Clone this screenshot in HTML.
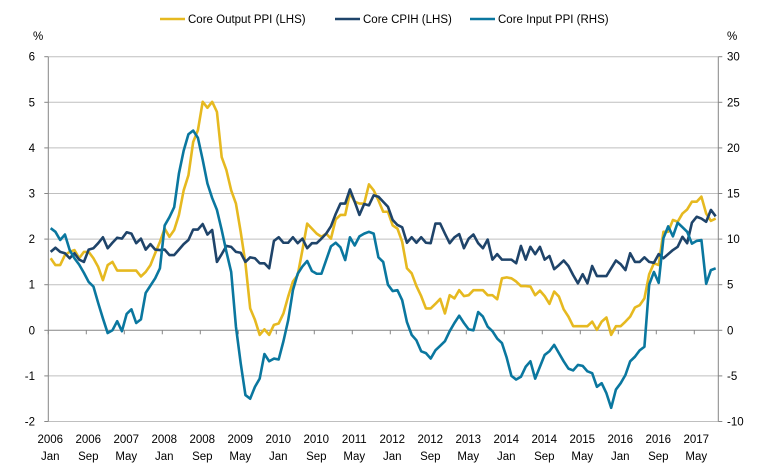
<!DOCTYPE html>
<html><head><meta charset="utf-8"><style>
html,body{margin:0;padding:0;background:#fff;}
svg{display:block;font-family:"Liberation Sans",Arial,sans-serif;}
</style></head><body>
<svg id="chart" width="758" height="475" viewBox="0 0 758 475" xmlns="http://www.w3.org/2000/svg">
<g id="grid"></g>
<g id="axes"></g>
<g id="series"></g>
<g id="legend"></g>
</svg>
<script>
const outputPPI=[1.58,1.43,1.43,1.65,1.72,1.76,1.58,1.72,1.72,1.58,1.39,1.10,1.43,1.50,1.31,1.31,1.31,1.31,1.31,1.18,1.28,1.43,1.69,1.94,
2.23,2.05,2.20,2.53,3.07,3.40,4.13,4.39,5.01,4.88,5.01,4.79,3.80,3.51,3.07,2.78,2.16,1.47,0.48,0.23,-0.10,0.02,-0.10,0.12,0.15,
0.37,0.74,1.07,1.21,1.76,2.34,2.23,2.12,2.05,2.12,2.01,2.43,2.53,2.53,3.01,2.82,2.78,2.78,3.20,3.07,2.85,2.60,2.60,2.30,
2.23,1.94,1.36,1.25,0.97,0.75,0.48,0.48,0.58,0.69,0.37,0.77,0.70,0.88,0.75,0.77,0.88,0.88,0.88,0.77,0.77,0.68,1.14,1.16,
1.14,1.07,0.97,0.97,0.96,0.77,0.87,0.75,0.58,0.85,0.74,0.46,0.30,0.09,0.09,0.09,0.09,0.19,0.01,0.19,0.28,-0.10,0.09,0.09,
0.19,0.30,0.50,0.55,0.70,1.23,1.47,1.43,2.16,2.16,2.42,2.38,2.56,2.65,2.82,2.82,2.93,2.56,2.40,2.45];
const cpih=[1.72,1.81,1.72,1.69,1.58,1.69,1.55,1.50,1.77,1.80,1.91,2.04,1.80,1.92,2.03,2.01,2.15,2.12,1.91,2.01,1.77,1.89,1.77,1.76,
1.77,1.65,1.65,1.77,1.89,1.98,2.21,2.21,2.33,2.10,2.20,1.50,1.67,1.85,1.83,1.72,1.70,1.50,1.60,1.58,1.47,1.47,1.36,1.96,2.04,
1.92,1.92,2.04,1.91,2.01,1.80,1.91,1.91,2.01,2.12,2.28,2.55,2.78,2.78,3.09,2.82,2.53,2.77,2.74,2.96,2.93,2.82,2.71,2.42,
2.31,2.26,1.92,2.04,1.92,2.04,1.92,1.91,2.34,2.34,2.12,1.91,2.04,2.11,1.80,2.01,2.10,1.91,1.80,1.99,1.55,1.67,1.55,1.55,
1.55,1.47,1.85,1.55,1.83,1.67,1.83,1.55,1.63,1.34,1.43,1.53,1.41,1.21,1.03,1.23,1.03,1.41,1.19,1.19,1.19,1.36,1.53,1.45,
1.32,1.69,1.50,1.50,1.60,1.50,1.48,1.67,1.58,1.67,1.76,1.83,2.05,1.91,2.36,2.49,2.45,2.38,2.64,2.50];
const inputPPI=[11.2,10.8,9.9,10.5,8.8,7.9,7.2,6.3,5.3,4.8,3.0,1.3,-0.3,0,1.0,-0.1,1.8,2.3,0.8,1.2,4.1,4.9,5.7,6.8,
11.5,12.4,13.5,17.2,19.7,21.5,21.9,21.1,18.7,16.1,14.5,13.2,11.0,8.6,6.4,0.4,-3.6,-7.1,-7.5,-6.2,-5.3,-2.6,-3.4,-3.1,-3.2,
-1.2,1.1,4.4,6.2,7.0,7.6,6.5,6.2,6.2,7.7,9.2,9.6,9.1,7.7,10.2,9.3,10.3,10.6,10.8,10.6,8.0,7.5,5.0,4.3,
4.4,3.3,0.9,-0.5,-1.1,-2.3,-2.5,-3.1,-2.2,-1.7,-1.2,-0.1,0.8,1.6,0.8,0.1,0,2.0,1.5,0.4,-0.1,-0.9,-1.4,-3.0,
-5.0,-5.4,-5.1,-4.0,-3.4,-5.3,-4.0,-2.7,-2.3,-1.6,-2.5,-3.4,-4.2,-4.4,-3.8,-3.9,-4.5,-4.7,-6.2,-5.8,-6.9,-8.5,-6.5,-5.8,
-4.9,-3.4,-2.9,-2.2,-1.8,5.0,6.4,5.2,10.1,11.4,10.3,11.8,11.3,10.8,9.5,9.8,9.9,5.1,6.6,6.8];
const leftTicks=[-2,-1,0,1,2,3,4,5,6];
const rightTicks=[-10,-5,0,5,10,15,20,25,30];
const xLabelYears=["2006","2006","2007","2008","2008","2009","2010","2010","2011","2012","2012","2013","2014","2014","2015","2016","2016","2017"];
const xLabelMonths=["Jan","Sep","May","Jan","Sep","May","Jan","Sep","May","Jan","Sep","May","Jan","Sep","May","Jan","Sep","May"];
const NS="http://www.w3.org/2000/svg";
const X0=48.3,STEP=4.75,Y0=330.3,UNIT=45.6,XR=718.3;
function xCat(i){return X0+STEP/2+STEP*i;}
function xEdge(i){return X0+STEP*i;}
function yL(v){return Y0-v*UNIT;}
function yR(v){return Y0-v/5*UNIT;}
function mk(tag,attrs,parent){const e=document.createElementNS(NS,tag);for(const k in attrs)e.setAttribute(k,attrs[k]);parent.appendChild(e);return e;}
const grid=document.getElementById('grid'),axes=document.getElementById('axes'),series=document.getElementById('series'),legend=document.getElementById('legend');
leftTicks.forEach(t=>{
  if(t!==0){const g=mk('line',{x1:X0,x2:XR,y1:yL(t),y2:yL(t),stroke:'#bfbfbf','stroke-width':1},grid);
  
  }
  const lt=mk('text',{x:35,y:yL(t)+4,'text-anchor':'end','font-size':11.5,fill:'#000'},axes);lt.textContent=t;
  
  
});
rightTicks.forEach(t=>{
  const rt=mk('text',{x:727,y:yR(t)+4,'text-anchor':'start','font-size':11.5,fill:'#000'},axes);rt.textContent=t;
  
  
});
const la=mk('line',{x1:X0,x2:X0,y1:yL(6),y2:yL(-2),stroke:'#868686','stroke-width':1},axes);


const ra=mk('line',{x1:XR,x2:XR,y1:yL(6),y2:yL(-2),stroke:'#868686','stroke-width':1},axes);


leftTicks.forEach(t=>{mk('line',{x1:X0-4,x2:X0,y1:yL(t),y2:yL(t),stroke:'#868686'},axes);mk('line',{x1:XR,x2:XR+4,y1:yL(t),y2:yL(t),stroke:'#868686'},axes);});
const xa=mk('line',{x1:X0,x2:XR,y1:Y0,y2:Y0,stroke:'#868686','stroke-width':1},axes);


xLabelYears.forEach((yr,k)=>{
  const x=xEdge(k*8);
  mk('line',{x1:x,x2:x,y1:Y0,y2:Y0+4,stroke:'#868686'},axes);
  const a=mk('text',{x:x+2,y:443,'text-anchor':'middle','font-size':11.5,fill:'#000'},axes);a.textContent=yr;
  
  
  const b=mk('text',{x:x+2,y:460,'text-anchor':'middle','font-size':11.5,fill:'#000'},axes);b.textContent=xLabelMonths[k];
  
  
});
const p1=mk('text',{x:33,y:40,'font-size':11.5,fill:'#000'},axes);p1.textContent='%';


const p2=mk('text',{x:727,y:40,'font-size':11.5,fill:'#000'},axes);p2.textContent='%';


function line(data,yf,color,name){
  const d=data.map((v,i)=>(i?'L':'M')+xCat(i).toFixed(2)+','+yf(v).toFixed(2)).join(' ');
  const p=mk('path',{d:d,fill:'none',stroke:color,'stroke-width':2.6,'stroke-linejoin':'round'},series);
  
  
}
line(outputPPI,yL,'#E6B920','core-output-ppi-line');
line(cpih,yL,'#1F446A','core-cpih-line');
line(inputPPI,yR,'#0A779F','core-input-ppi-line');
const leg=[['Core Output PPI (LHS)','#E6B920',160],['Core CPIH (LHS)','#1F446A',335],['Core Input PPI (RHS)','#0A779F',470]];
leg.forEach(l=>{
  const g=mk('g',{},legend);
  
  
  mk('line',{x1:l[2],x2:l[2]+25,y1:19,y2:19,stroke:l[1],'stroke-width':2.6},g);
  const t=mk('text',{x:l[2]+28,y:23,'font-size':11.5,fill:'#000'},g);t.textContent=l[0];
});
</script>
</body></html>
